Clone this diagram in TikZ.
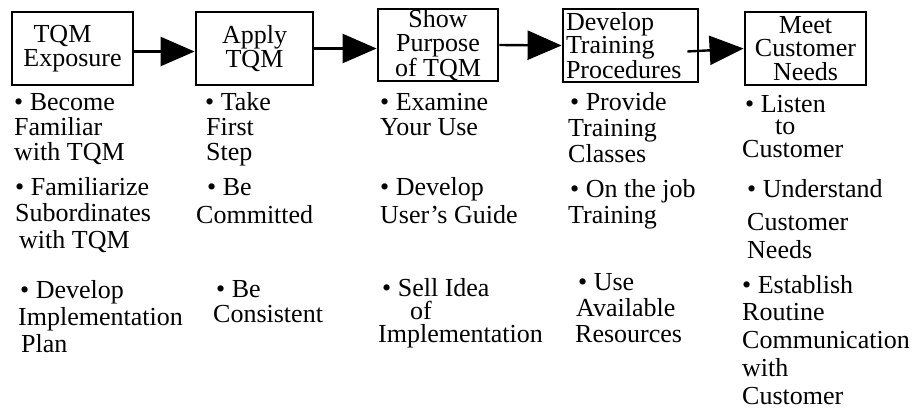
\documentclass[tikz,border=0pt]{standalone}
\usepackage{fontspec}
\setmainfont{Liberation Serif}
\usetikzlibrary{arrows.meta}

\begin{document}
\begin{tikzpicture}[x=1pt,y=-1pt,
  stagebox/.style={draw,line width=2.8pt,minimum height=73pt,inner sep=0pt,
    align=center,font=\fontsize{26}{23.5}\selectfont},
  bulletitem/.style={anchor=base west,inner sep=0pt,align=left,
    font=\fontsize{26}{25}\selectfont},
  flow/.style={line width=2.4pt,-{Triangle[length=34pt,width=29pt]}}]
  \useasboundingbox (0,0) rectangle (916,410);

  % stages
  \node[stagebox,minimum width=121pt] (exposure) at (72.5,48.5) {TQM\hspace*{20pt}\\Exposure};
  \node[stagebox,minimum width=117pt] (apply) at (254.5,48.5) {Apply\\TQM};
  \node[stagebox,minimum width=120pt,minimum height=72pt] (purpose) at (438,45) {Show\\Purpose\\of TQM};
  \node[stagebox,minimum width=135pt,text width=129pt,align=left] (develop) at (630.5,45.5) {Develop\\Training\\Procedures};
  \node[stagebox,minimum width=121pt] (customer) at (805.5,48.5) {Meet\\Customer\\Needs};

  \draw[flow] ([yshift=-3pt]exposure.east) -- ([yshift=-3pt]apply.west);
  \draw[flow] (apply.east) -- (apply.east -| purpose.west);
  \draw[flow] (purpose.east) -- (develop.west);
  \draw[flow] ([xshift=-12pt,yshift=-6pt]develop.east) -- (customer.west);

  % TQM exposure (each item placed at the baseline of its last line)
  \node[bulletitem] (exp1) at (14,160) {• Become\\Familiar\\with TQM};
  \node[bulletitem,font=\fontsize{26}{26.5}\selectfont] (exp2) at (15,248) {• Familiarize\\Subordinates\\\hspace*{4pt}with TQM};
  \node[bulletitem,font=\fontsize{26}{27}\selectfont] (exp3) at (18,352) {\hspace*{2pt}• Develop\\Implementation\\\hspace*{3pt}Plan};

  % apply TQM
  \node[bulletitem] (app1) at (205,160) {• Take\\\hspace*{1pt}First\\\hspace*{1pt}Step};
  \node[bulletitem,font=\fontsize{26}{28}\selectfont] (app2) at (196,223) {\hspace*{11pt}• Be\\Committed};
  \node[bulletitem] (app3) at (213,322) {\hspace*{3pt}• Be\\Consistent};

  % show purpose
  \node[bulletitem] (pur1) at (380,135) {• Examine\\Your Use};
  \node[bulletitem,font=\fontsize{26}{28}\selectfont] (pur2) at (380,223) {• Develop\\User's Guide};
  \node[bulletitem,font=\fontsize{26}{23}\selectfont] (pur3) at (378,342) {\hspace*{4pt}• Sell Idea\\\hspace*{32pt}of\\Implementation};

  % training procedures
  \node[bulletitem,font=\fontsize{26}{26}\selectfont] (trn1) at (568,162) {\hspace*{2pt}• Provide\\Training\\Classes};
  \node[bulletitem,font=\fontsize{26}{26}\selectfont] (trn2) at (568,223) {\hspace*{2pt}• On the job\\Training};
  \node[bulletitem,font=\fontsize{26}{26}\selectfont] (trn3) at (575,342) {\hspace*{3pt}• Use\\\hspace*{1pt}Available\\Resources};

  % customer needs
  \node[bulletitem,font=\fontsize{26}{22.5}\selectfont] (cus1) at (742,157) {\hspace*{3pt}• Listen\\\hspace*{33pt}to\\Customer};
  \node[bulletitem] (cus2) at (747,258) {• Understand\\[8pt]Customer\\[3pt]Needs};
  \node[bulletitem,font=\fontsize{26}{27.75}\selectfont] (cus3) at (742,404) {• Establish\\Routine\\Communication\\with\\Customer};
\end{tikzpicture}
\end{document}
